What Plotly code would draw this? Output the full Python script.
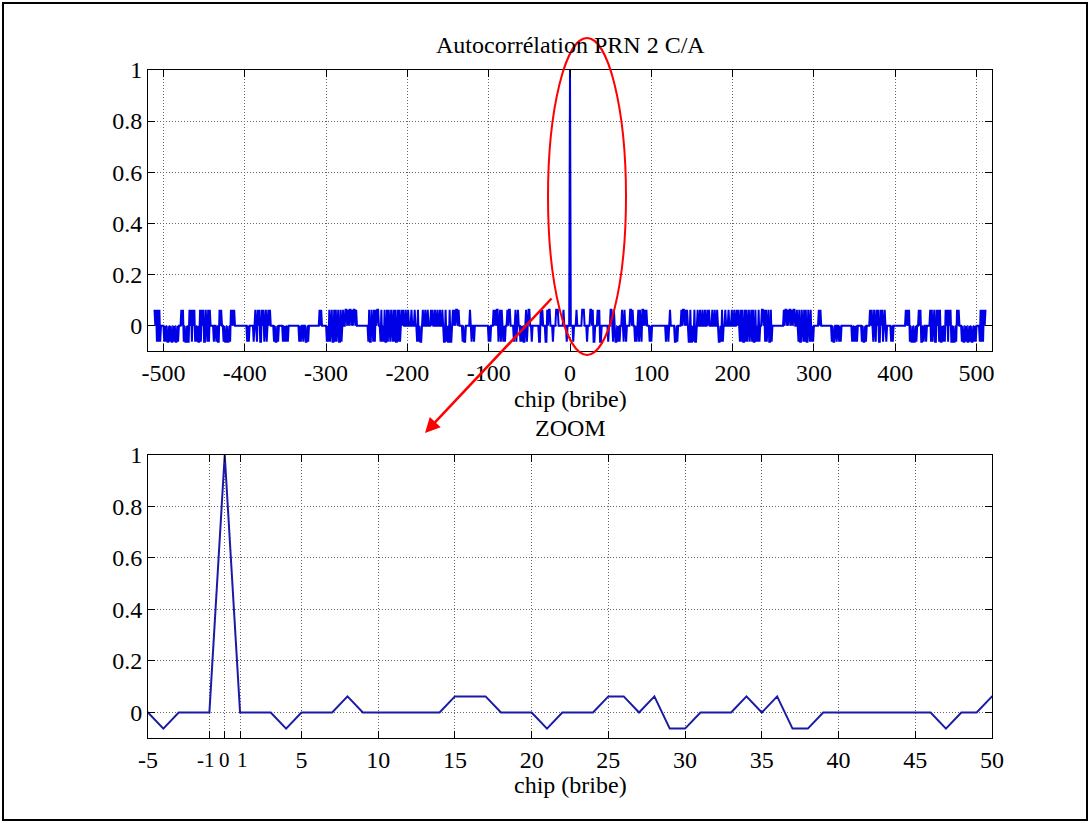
import plotly.graph_objects as go

# ---- data ----
# correlation levels observed (normalised): high side-lobe, low side-lobe, near-zero
LEVEL_HIGH = 0.0616
LEVEL_LOW = -0.0635
LEVEL_ZERO = -0.001
PEAK = 1.0
# autocorrelation for lags 1..511 ('+' high, '-' low, '0' near zero); the curve is symmetric in lag
HALF_CHUNKS = [
    "000-000+00", "0000+++000", "-000++0+--", "000+0+--00", "000000-00+",
    "+0-+0--0-0", "-00+0-+0-0", "000++0+00-", "0-0+-+0-++", "0+0+000-0-",
    "0000000000", "0000000-00", "-0+00000--", "0-0000+0++", "0+0+0--+--",
    "0-+--0+00+", "00+00+00+0", "+000+00+00", "+0--0-+-00", "+000+000+0",
    "0+00+0+0-+", "-+--+-+-0+", "-0+-+--+-0", "-+-00++0+-", "+-0+--+-00",
    "0000000000", "00+0++0+0+", "+0+0++00+0", "-+--+0-+-+", "--+0-+-0-0",
    "00000+0+00", "0000000000", "0-0--00-00", "-0-0000000", "000000-0-0",
    "-0-00000-0", "--0-0000+0", "+0-+0-+0+-", "-+0+-0+0-0", "0000-0-000",
    "0000000000", "00+0+0+-0-", "-0--0-00+0", "+--0-00-00", "00+-+-0+--",
    "+0+-+--0-0", "-+0+-+0+--", "0--0-+0+00", "0-0--0-0--", "0-0--0-0-0",
    "000-+-+-+0+",
]
TOP_XTICKS = [-500, -400, -300, -200, -100, 0, 100, 200, 300, 400, 500]
ZOOM_XTICKS = [-5, -1, 0, 1, 5, 10, 15, 20, 25, 30, 35, 40, 45, 50]
ZOOM_CLOSE_TICKS = [-1, 0, 1]   # labelled separately so they do not collide
YTICKS = [0, 0.2, 0.4, 0.6, 0.8, 1]
YTICK_TEXT = ["0", "0.2", "0.4", "0.6", "0.8", "1"]

# ---- build series ----
code = {"+": LEVEL_HIGH, "-": LEVEL_LOW, "0": LEVEL_ZERO}
half = "".join(HALF_CHUNKS)
assert len(half) == 511
pos_vals = [code[c] for c in half]
values = pos_vals[::-1] + [PEAK] + pos_vals
lags = list(range(-len(pos_vals), len(pos_vals) + 1))

L, R, T, B = 148, 99, 70, 85
W, H = 1091, 823
PW, PH = W - L - R, H - T - B

def px(x):
    return (x - L) / PW

def py(y):
    return (H - B - y) / PH

fig = go.Figure()
fig.add_trace(go.Scatter(x=lags, y=values, mode="lines",
                         line=dict(color="#0000e6", width=2),
                         xaxis="x", yaxis="y", showlegend=False))
fig.add_trace(go.Scatter(x=lags, y=values, mode="lines",
                         line=dict(color="#1a1aa6", width=2),
                         xaxis="x2", yaxis="y2", showlegend=False))

font = dict(family="Liberation Serif, Times New Roman, serif", size=24, color="black")
axis_common = dict(showline=True, linecolor="black", linewidth=1, mirror="ticks",
                   ticks="inside", ticklen=7, tickcolor="black", tickangle=0,
                   showgrid=True, gridcolor="#666666", gridwidth=1, griddash="1px,2px",
                   zeroline=False, tickfont=font)

zoom_text = ["" if v in ZOOM_CLOSE_TICKS else str(v) for v in ZOOM_XTICKS]

fig.update_layout(
    width=W, height=H,
    margin=dict(l=L, r=R, t=T, b=B),
    paper_bgcolor="white", plot_bgcolor="white",
    font=font,
    xaxis=dict(domain=[0, 1], anchor="y", range=[-519, 519], tickvals=TOP_XTICKS,
               ticktext=[str(v) for v in TOP_XTICKS], **axis_common),
    yaxis=dict(domain=[py(351), 1], anchor="x", range=[-0.1, 1], tickvals=YTICKS,
               ticktext=YTICK_TEXT, **axis_common),
    xaxis2=dict(domain=[0, 1], anchor="y2", range=[-5, 50], tickvals=ZOOM_XTICKS,
                ticktext=zoom_text, **axis_common),
    yaxis2=dict(domain=[0, py(455)], anchor="x2", range=[-0.1, 1], tickvals=YTICKS,
                ticktext=YTICK_TEXT, **axis_common),
)

# the three crowded tick labels of the zoom axis
small = dict(font)
small["size"] = 21
for v, shift in zip(ZOOM_CLOSE_TICKS, [-3, 0, 2]):
    fig.add_annotation(text=str(v), x=v, xref="x2", y=py(760), yref="paper",
                       xshift=shift, showarrow=False, font=small,
                       xanchor="center", yanchor="middle")

fig.add_annotation(text="Autocorrélation PRN 2 C/A", x=0.5, y=py(45), xref="paper", yref="paper",
                   showarrow=False, font=font, xanchor="center", yanchor="middle")
fig.add_annotation(text="chip (bribe)", x=0.5, y=py(399), xref="paper", yref="paper",
                   showarrow=False, font=font, xanchor="center", yanchor="middle")
fig.add_annotation(text="ZOOM", x=0.5, y=py(428), xref="paper", yref="paper",
                   showarrow=False, font=font, xanchor="center", yanchor="middle")
fig.add_annotation(text="chip (bribe)", x=0.5, y=py(785), xref="paper", yref="paper",
                   showarrow=False, font=font, xanchor="center", yanchor="middle")

# red ellipse and arrow
fig.add_shape(type="circle", xref="paper", yref="paper",
              x0=px(548), x1=px(626), y0=py(355), y1=py(38),
              line=dict(color="red", width=2))
fig.add_annotation(x=px(425), y=py(433), xref="paper", yref="paper",
                   ax=553 - 425, ay=297 - 433, axref="pixel", ayref="pixel",
                   showarrow=True, arrowhead=2, arrowsize=1.2, arrowwidth=2.5,
                   arrowcolor="red", text="")

# outer frame
fig.add_shape(type="rect", xref="paper", yref="paper",
              x0=px(3), x1=px(1087), y0=py(820), y1=py(3),
              line=dict(color="black", width=2))

fig.write_html("out.html")
